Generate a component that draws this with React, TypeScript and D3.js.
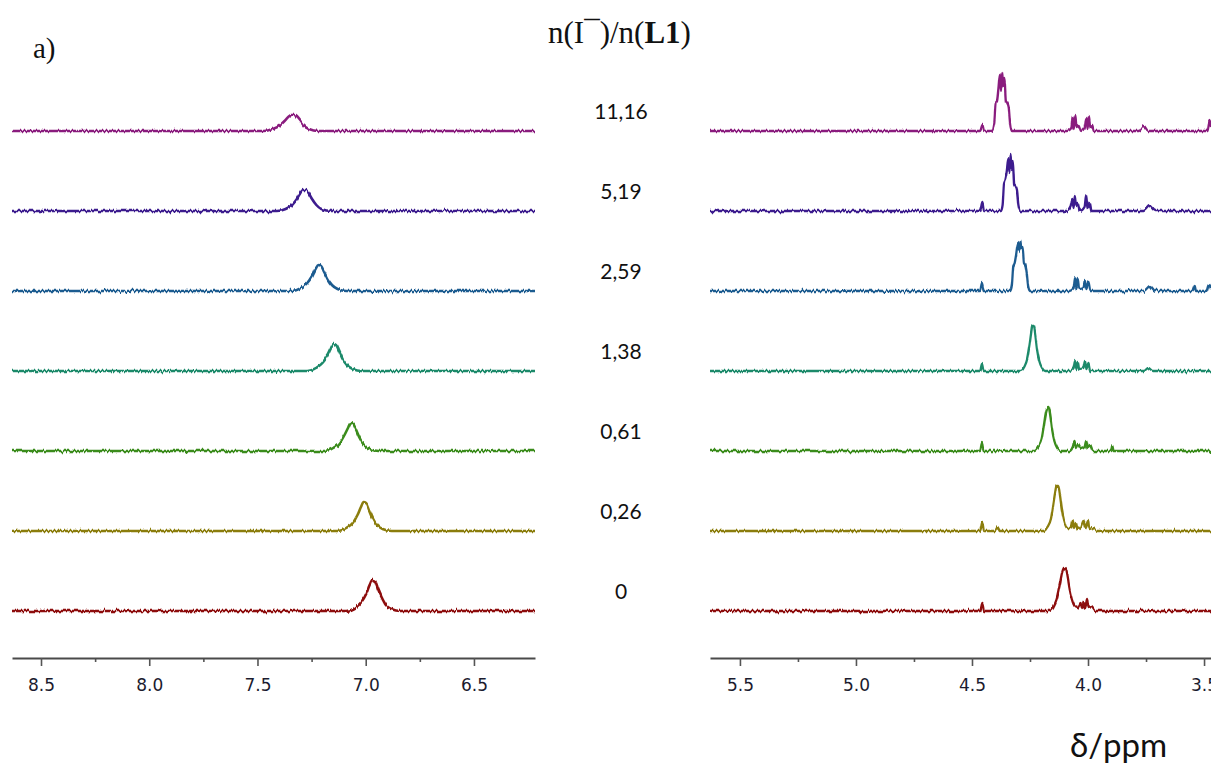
import React, { useEffect, useRef } from "react";
import * as d3 from "d3";

type Pt = [number, number];

const ratioLabels = ["11,16", "5,19", "2,59", "1,38", "0,61", "0,26", "0"];
const seriesColors = ["#8a1c7e", "#3c1b8e", "#1f5b90", "#1e8a6b", "#3b8c1c", "#8b7d0c", "#8d0c0c"];
const leftTicksMajor = [8.5, 8.0, 7.5, 7.0, 6.5];
const leftTicksMinor = [8.25, 7.75, 7.25, 6.75];
const rightTicksMajor = [5.5, 5.0, 4.5, 4.0, 3.5];
const rightTicksMinor = [5.25, 4.75, 4.25, 3.75];
const leftDomain = [8.634, 6.218];
const rightDomain = [5.629, 3.47];

// left region (aromatic) spectra: [ppm, intensity]
const leftPurple: Pt[] = [[8.634,0],[7.47,0],[7.43,2],[7.40,5],[7.375,10],[7.358,14],[7.345,16],[7.330,16],[7.318,14],[7.302,10],[7.285,5],[7.262,2],[7.22,0],[6.218,0]];
const leftIndigo: Pt[] = [[8.634,0],[7.41,0],[7.37,2],[7.34,6],[7.318,12],[7.302,18],[7.290,21],[7.276,21],[7.264,18],[7.248,12],[7.228,6],[7.205,2],[7.16,0],[6.218,0]];
const leftBlue: Pt[] = [[8.634,0],[7.34,0],[7.30,3],[7.27,8],[7.248,15],[7.232,22],[7.218,26],[7.206,25],[7.192,19],[7.176,12],[7.156,6],[7.13,2],[7.09,0],[6.218,0]];
const leftTeal: Pt[] = [[8.634,0],[7.27,0],[7.23,3],[7.20,8],[7.178,15],[7.162,22],[7.149,27],[7.137,26],[7.123,20],[7.107,12],[7.087,6],[7.06,2],[7.02,0],[6.218,0]];
const leftGreen: Pt[] = [[8.634,0],[7.19,0],[7.15,3],[7.12,8],[7.098,16],[7.082,23],[7.070,28],[7.058,27],[7.044,21],[7.028,13],[7.008,6],[6.982,2],[6.94,0],[6.218,0]];
const leftOlive: Pt[] = [[8.634,0],[7.13,0],[7.09,3],[7.06,8],[7.038,16],[7.022,24],[7.010,29],[6.998,28],[6.984,21],[6.968,13],[6.948,6],[6.922,2],[6.88,0],[6.218,0]];
const leftRed: Pt[] = [[8.634,0],[7.09,0],[7.05,3],[7.02,9],[6.998,17],[6.982,26],[6.969,31],[6.957,30],[6.943,22],[6.927,14],[6.907,6],[6.882,2],[6.84,0],[6.218,0]];

// right region spectra: [ppm, intensity]
const rightPurple: Pt[] = [[5.629,0],[4.465,0],[4.455,6],[4.448,0],[4.415,0],[4.404,8],[4.398,28],[4.392,30],[4.386,42],[4.380,56],[4.375,40],[4.370,58],[4.365,44],[4.360,52],[4.354,30],[4.348,28],[4.342,24],[4.336,8],[4.328,0],[4.09,0],[4.072,3],[4.066,14],[4.061,2],[4.055,15],[4.049,4],[4.040,6],[4.030,0],[4.015,3],[4.008,13],[4.002,2],[3.996,14],[3.99,3],[3.982,6],[3.975,0],[3.78,0],[3.76,5],[3.74,0],[3.485,0],[3.477,10],[3.47,4]];
const rightIndigo: Pt[] = [[5.629,0],[4.465,0],[4.455,9],[4.448,0],[4.375,0],[4.368,6],[4.362,28],[4.356,32],[4.350,40],[4.344,52],[4.339,38],[4.334,56],[4.329,42],[4.324,50],[4.318,26],[4.312,24],[4.306,20],[4.300,6],[4.292,0],[4.09,0],[4.075,4],[4.068,12],[4.062,3],[4.057,15],[4.051,5],[4.045,8],[4.035,0],[4.015,4],[4.008,16],[4.002,3],[3.992,8],[3.985,0],[3.76,0],[3.735,5],[3.71,0],[3.49,0],[3.47,0]];
const rightBlue: Pt[] = [[5.629,0],[4.465,0],[4.457,8],[4.450,0],[4.335,0],[4.328,6],[4.322,25],[4.316,28],[4.310,36],[4.302,48],[4.297,40],[4.292,50],[4.287,42],[4.282,44],[4.276,28],[4.270,26],[4.264,18],[4.258,5],[4.250,0],[4.08,0],[4.062,3],[4.056,13],[4.050,2],[4.044,12],[4.038,2],[4.020,3],[4.013,10],[4.007,2],[3.998,9],[3.99,0],[3.76,0],[3.733,5],[3.71,0],[3.55,0],[3.54,5],[3.535,0],[3.49,0],[3.48,6],[3.47,2]];
const rightTeal: Pt[] = [[5.629,0],[4.465,0],[4.457,7],[4.450,0],[4.29,0],[4.275,4],[4.262,12],[4.252,26],[4.245,38],[4.240,45],[4.233,45],[4.227,36],[4.220,22],[4.210,10],[4.198,3],[4.185,0],[4.08,0],[4.062,3],[4.056,10],[4.050,2],[4.044,9],[4.038,2],[4.020,3],[4.013,10],[4.007,2],[3.998,8],[3.99,0],[3.76,0],[3.74,3],[3.72,0],[3.47,0]];
const rightGreen: Pt[] = [[5.629,0],[4.465,0],[4.457,8],[4.450,0],[4.23,0],[4.215,4],[4.200,12],[4.190,26],[4.182,38],[4.176,43],[4.170,44],[4.163,36],[4.155,22],[4.145,10],[4.133,3],[4.12,0],[4.08,0],[4.066,4],[4.058,10],[4.052,3],[4.045,7],[4.030,2],[4.015,4],[4.008,10],[4.0,3],[3.99,5],[3.98,0],[3.90,0],[3.895,5],[3.89,0],[3.47,0]];
const rightOlive: Pt[] = [[5.629,0],[4.465,0],[4.455,9],[4.448,0],[4.40,0],[4.39,4],[4.38,0],[4.19,0],[4.175,4],[4.160,12],[4.150,26],[4.142,38],[4.136,45],[4.128,45],[4.121,36],[4.113,22],[4.103,10],[4.090,3],[4.075,3],[4.066,11],[4.060,3],[4.052,8],[4.045,2],[4.030,4],[4.020,10],[4.012,3],[4.000,11],[3.994,2],[3.98,3],[3.96,0],[3.47,0]];
const rightRed: Pt[] = [[5.629,0],[4.465,0],[4.455,8],[4.448,0],[4.165,0],[4.150,4],[4.135,12],[4.122,26],[4.112,38],[4.104,43],[4.096,42],[4.088,34],[4.080,22],[4.070,12],[4.058,5],[4.045,3],[4.032,8],[4.026,3],[4.018,9],[4.012,3],[4.004,12],[3.998,3],[3.985,4],[3.97,0],[3.47,0]];

const leftSeries = [leftPurple, leftIndigo, leftBlue, leftTeal, leftGreen, leftOlive, leftRed];
const rightSeries = [rightPurple, rightIndigo, rightBlue, rightTeal, rightGreen, rightOlive, rightRed];

const W = 1211;
const H = 772;
const AXIS_Y = 658;

export default function App() {
  const leftAxisRef = useRef<SVGGElement>(null);
  const rightAxisRef = useRef<SVGGElement>(null);

  const xLeft = d3.scaleLinear().domain(leftDomain).range([12, 535]);
  const xRight = d3.scaleLinear().domain(rightDomain).range([710, 1211]);
  const yBase = d3.scalePoint<string>().domain(ratioLabels).range([131, 611]);
  const inten = d3.scaleLinear().domain([0, 60]).range([0, 60]);

  useEffect(() => {
    const draw = (g: SVGGElement | null, x: d3.ScaleLinear<number, number>, major: number[], minor: number[]) => {
      if (!g) return;
      const sel = d3.select(g);
      sel.selectAll("*").remove();
      const minorG = sel.append("g");
      minorG.call(d3.axisBottom(x).tickValues(minor).tickSize(4).tickSizeOuter(0).tickFormat(() => ""));
      minorG.select(".domain").remove();
      const majorG = sel.append("g");
      majorG.call(
        d3.axisBottom(x).tickValues(major).tickSize(8).tickSizeOuter(0).tickPadding(13).tickFormat(d3.format(".1f"))
      );
      sel.selectAll("path.domain").attr("stroke", "#4a4a4a").attr("stroke-width", 1.8);
      sel.selectAll(".tick line").attr("stroke", "#555").attr("stroke-width", 1.6);
      sel.selectAll(".tick text")
        .attr("fill", "#1b1b2e")
        .attr("font-family", "DejaVu Sans, Verdana, sans-serif")
        .attr("font-size", 17);
    };
    draw(leftAxisRef.current, xLeft, leftTicksMajor, leftTicksMinor);
    draw(rightAxisRef.current, xRight, rightTicksMajor, rightTicksMinor);
  }, []);

  const makeLine = (x: d3.ScaleLinear<number, number>, base: number) =>
    d3.line<Pt>().x((d) => x(d[0])).y((d) => base - inten(d[1])).curve(d3.curveMonotoneX);

  return (
    <svg
      width={W}
      height={H}
      style={{ position: "absolute", left: 0, top: 0, background: "#fff" }}
    >
      <defs>
        <filter id="jitter" filterUnits="userSpaceOnUse" x={0} y={0} width={W} height={H}>
          <feTurbulence type="fractalNoise" baseFrequency="0.5 0.03" numOctaves={2} seed={7} result="noise" />
          <feColorMatrix in="noise" type="matrix" values="0 0 0 0 0.5  0 1 0 0 0  0 0 1 0 0  0 0 0 0 1" result="yonly" />
          <feDisplacementMap in="SourceGraphic" in2="yonly" scale={5} xChannelSelector="R" yChannelSelector="G" />
        </filter>
      </defs>
      <rect x={0} y={0} width={W} height={H} fill="#fff" />
      <text x={33} y={58} fontFamily="Liberation Serif, Times New Roman, serif" fontSize={29} fill="#111">a)</text>
      <text x={548} y={43} fontFamily="Liberation Serif, Times New Roman, serif" fontSize={31} fill="#111">
        <tspan>n(I</tspan>
        <tspan>¯</tspan>
        <tspan>)/n(</tspan>
        <tspan fontWeight="bold">L1</tspan>
        <tspan>)</tspan>
      </text>
      <g filter="url(#jitter)">
        {ratioLabels.map((lab, i) => {
          const base = yBase(lab)!;
          return (
            <g key={lab}>
              <path d={makeLine(xLeft, base)(leftSeries[i]) || ""} fill="none" stroke={seriesColors[i]} strokeWidth={2.6} strokeLinejoin="round" />
              <path d={makeLine(xRight, base)(rightSeries[i]) || ""} fill="none" stroke={seriesColors[i]} strokeWidth={2.3} strokeLinejoin="round" />
            </g>
          );
        })}
      </g>
      {ratioLabels.map((lab) => (
        <text key={lab} x={621} y={yBase(lab)! - 12} textAnchor="middle" fontFamily="Lato, Open Sans, sans-serif" fontSize={21} fill="#111">{lab}</text>
      ))}
      <g ref={leftAxisRef} transform={`translate(0,${AXIS_Y})`} />
      <g ref={rightAxisRef} transform={`translate(0,${AXIS_Y})`} />
      <text x={1070} y={757} fontFamily="Lato, Open Sans, sans-serif" fontSize={33} fill="#111">δ/ppm</text>
    </svg>
  );
}
